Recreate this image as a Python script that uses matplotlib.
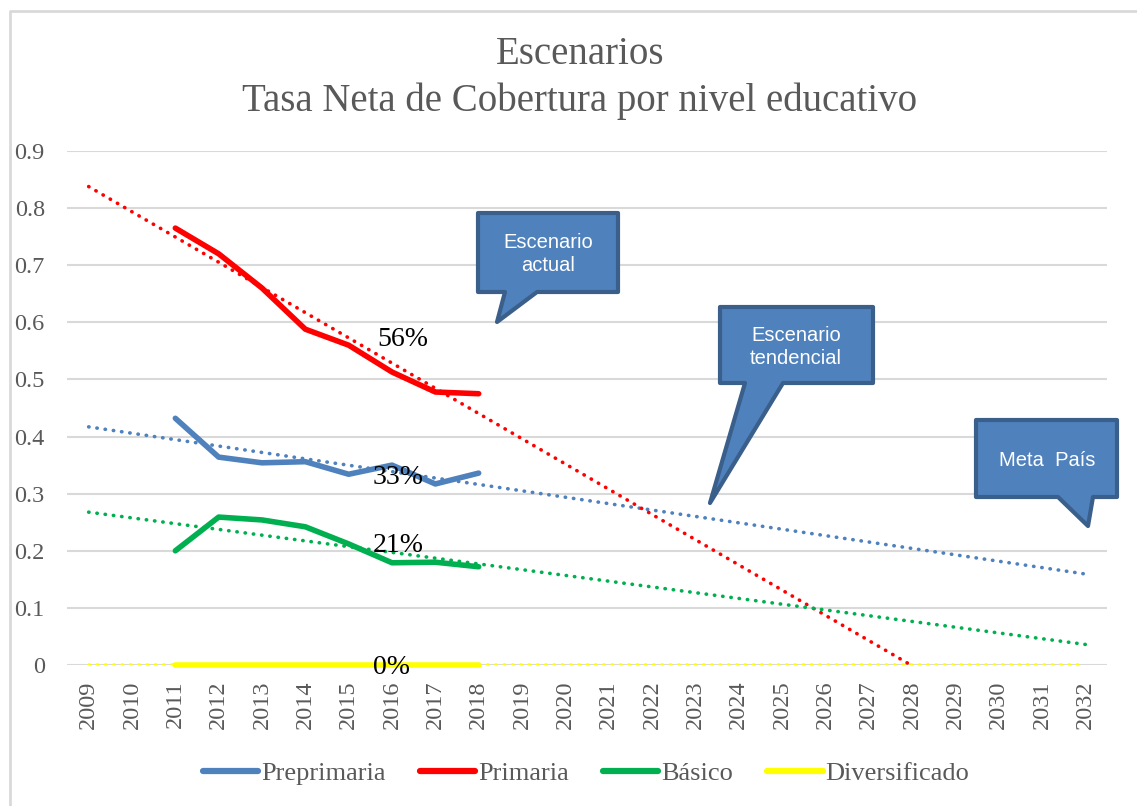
import numpy as np
import matplotlib
matplotlib.use("Agg")
import matplotlib.pyplot as plt
from matplotlib import font_manager
from matplotlib.patches import Polygon
from matplotlib.lines import Line2D

years = list(range(2009, 2033))
data_years = list(range(2011, 2019))

preprimaria = [0.432, 0.364, 0.354, 0.356, 0.334, 0.350, 0.317, 0.336]
primaria = [0.765, 0.720, 0.660, 0.588, 0.560, 0.513, 0.478, 0.475]
basico = [0.200, 0.259, 0.254, 0.242, 0.212, 0.179, 0.180, 0.172]
diversificado = [0, 0, 0, 0, 0, 0, 0, 0]

series_names = ["Preprimaria", "Primaria", "Básico", "Diversificado"]
series_colors = ["#4f81bd", "#ff0000", "#00b050", "#ffff00"]
point_labels = ["33%", "56%", "21%", "0%"]

W, H = 1137, 806
fig = plt.figure(figsize=(W / 100, H / 100), dpi=100)
ax = fig.add_axes([67 / W, 1 - 665 / H, (1107 - 67) / W, (665 - 151) / H])

serif = "Liberation Serif"
gray = "#595959"
installed = {f.name for f in font_manager.fontManager.ttflist}
callout_font = "Liberation Sans Narrow" if "Liberation Sans Narrow" in installed else "Liberation Sans"

x_all = np.arange(len(years))
x_data = np.array([years.index(y) for y in data_years])

all_series = [preprimaria, primaria, basico, diversificado]
for vals, name, col in zip(all_series, series_names, series_colors):
    # linear trend over the data, extended back to 2009 and forward to 2032
    k, b = np.polyfit(x_data, vals, 1)
    ax.plot(x_all, k * x_all + b, color=col, lw=2.6, ls=(0, (0.1, 2.2)),
            dash_capstyle="round", zorder=3)
    ax.plot(x_data, vals, color=col, lw=4, solid_capstyle="round",
            solid_joinstyle="round", zorder=2, clip_on=False)

# value labels near 2016
label_pos = [(373, 477), (377, 340), (373, 546), (373, 667)]
for (lx, ly), txt in zip(label_pos, point_labels):
    fig.text(lx / W, 1 - ly / H, txt, fontsize=20, family=serif,
             color="black", ha="left", va="center", zorder=5)

ax.set_xlim(-0.5, len(years) - 0.5)
ax.set_ylim(0, 0.9)
ax.set_yticks(np.arange(0, 0.91, 0.1))
ax.set_yticklabels(["0"] + [f"{v:.1f}" for v in np.arange(0.1, 0.91, 0.1)])
ax.set_xticks(x_all)
ax.set_xticklabels([str(y) for y in years], rotation=90)
ax.tick_params(length=0, labelsize=17.5, colors=gray)
ax.tick_params(axis="y", pad=16)
ax.tick_params(axis="x", pad=11)
for lab in ax.get_xticklabels() + ax.get_yticklabels():
    lab.set_family(serif)
ax.yaxis.grid(True, color="#d9d9d9", lw=1.5)
ax.set_axisbelow(True)
for s in ax.spines.values():
    s.set_visible(False)

fig.text(580 / W, 1 - 54 / H, "Escenarios", fontsize=28, family=serif,
         color=gray, ha="center", va="center")
fig.text(580 / W, 1 - 101 / H, "Tasa Neta de Cobertura por nivel educativo",
         fontsize=28, family=serif, color=gray, ha="center", va="center")

handles = [Line2D([], [], color=c, lw=4.5, solid_capstyle="round") for c in series_colors]
leg = fig.legend(handles, series_names, loc="center", bbox_to_anchor=(586 / W, 1 - 773 / H),
                 ncol=4, frameon=False, handlelength=2.1, handletextpad=0.1,
                 columnspacing=1.3, prop={"family": serif, "size": 19})
for t in leg.get_texts():
    t.set_color(gray)


def px(pts):
    return [(x / W, 1 - y / H) for x, y in pts]


callouts = [
    ([(478, 213), (618, 213), (618, 292), (537, 292), (497, 322), (505, 292), (478, 292)],
     (548, 254), "Escenario\nactual"),
    ([(720, 307), (873, 307), (873, 383), (783, 383), (710, 503), (745, 383), (720, 383)],
     (796, 347), "Escenario\ntendencial"),
    ([(976, 420), (1117, 420), (1117, 497), (1093, 497), (1088, 526), (1058, 497), (976, 497)],
     (1047, 461), "Meta  País"),
]
for pts, (tx, ty), txt in callouts:
    fig.patches.append(Polygon(px(pts), closed=True, transform=fig.transFigure,
                               facecolor="#4f81bd", edgecolor="#3a5f8b", lw=3,
                               joinstyle="round", zorder=6))
    fig.text(tx / W, 1 - ty / H, txt, fontsize=16 if "Narrow" in callout_font else 14.5,
             family=callout_font, color="white", ha="center", va="center",
             linespacing=1.3, zorder=7)

# outer chart border (top and left visible)
fig.add_artist(Line2D([9.5 / W, 9.5 / W, 1], [0, 1 - 10.5 / H, 1 - 10.5 / H],
                      transform=fig.transFigure, color="#d9d9d9", lw=2))

fig.savefig("out.png", dpi=100)
